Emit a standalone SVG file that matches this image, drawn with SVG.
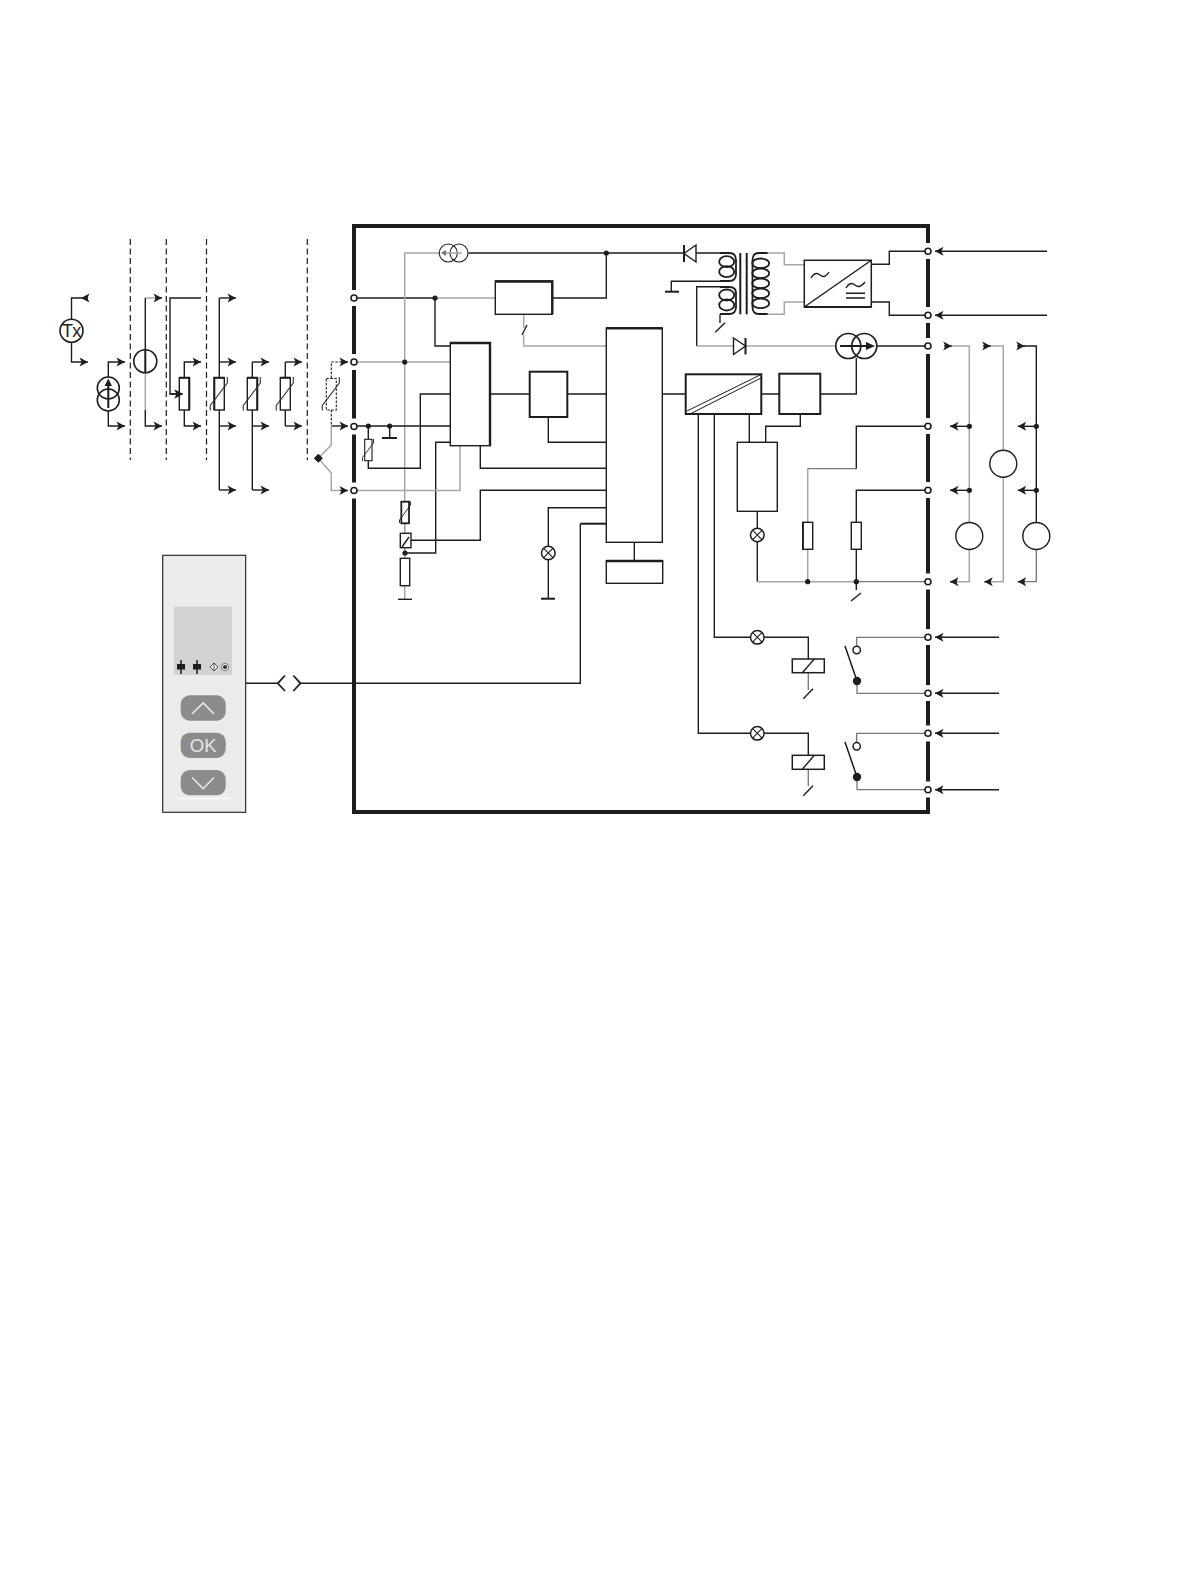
<svg xmlns="http://www.w3.org/2000/svg" width="1191" height="1587" viewBox="0 0 1191 1587">
<style>
.k{fill:none;stroke:#1d1d1b;stroke-width:1.4}
.g{fill:none;stroke:#a6a6a6;stroke-width:1.5}
.m{fill:none;stroke:#777;stroke-width:1.3}
.t{fill:none;stroke:#1d1d1b;stroke-width:2}
.box{fill:#fff;stroke:#1d1d1b;stroke-width:1.4}
.h{fill:none;stroke:#1d1d1b;stroke-width:2.4}
.d{fill:none;stroke:#1d1d1b;stroke-width:1.2;stroke-dasharray:6 3.5}
.dk{fill:none;stroke:#1d1d1b;stroke-width:1.1;stroke-dasharray:2.5 1.5}
.dot{fill:#1d1d1b}
.a{marker-end:url(#ar)}
.gap{fill:#fff}
.term{fill:#fff;stroke:#1d1d1b;stroke-width:1.6}
.chev{fill:none;stroke:#e6e6e6;stroke-width:1.6}
.coil{fill:none;stroke:#1d1d1b;stroke-width:1.8}
.ring{fill:none;stroke:#1d1d1b;stroke-width:1.6}
</style>
<defs>
<marker id="ar" markerUnits="userSpaceOnUse" markerWidth="11" markerHeight="10" refX="8.500" refY="4.500" orient="auto" overflow="visible"><path d="M0 0L8.500 4.500L0 9L2.200 4.500Z" fill="#1d1d1b"/></marker>
<g id="lamp"><circle r="6.800" fill="#fff" stroke="#1d1d1b" stroke-width="1.500"/><path d="M-4.600-4.600L4.600 4.600M-4.600 4.600L4.600-4.600" stroke="#1d1d1b" stroke-width="1.100"/></g>
<path id="slash" d="M-9 16.500v-5L8-11v-6" fill="none" stroke="#333" stroke-width="1.100"/>
</defs>
<rect width="1191" height="1587" fill="#fff"/>

<g id="frame">
<rect x="354" y="226" width="574" height="586" fill="none" stroke="#1d1d1b" stroke-width="4"/>
<g class="gap"><rect x="351" y="290" width="6" height="16"/><rect x="351" y="354" width="6" height="16"/><rect x="351" y="418.500" width="6" height="16"/><rect x="351" y="482.500" width="6" height="16"/>
<rect x="925" y="243" width="6" height="16"/><rect x="925" y="307" width="6" height="16"/><rect x="925" y="338" width="6" height="16"/><rect x="925" y="418" width="6" height="16"/><rect x="925" y="482" width="6" height="16"/><rect x="925" y="573.500" width="6" height="16"/><rect x="925" y="629" width="6" height="16"/><rect x="925" y="685" width="6" height="16"/><rect x="925" y="725.500" width="6" height="16"/><rect x="925" y="781.500" width="6" height="16"/></g>
</g>

<g id="connectors">
<path class="d" d="M130.300 239V460M166.300 239V460M206.500 239V460M307.300 239V460"/>
<path class="k" d="M71.500 319V298H81M71.500 342V362H81"/>
<path class="k a" d="M88 298H81"/><path class="k a" d="M81 362H88"/>
<path class="k a" d="M108.300 377V362H125"/><path class="k a" d="M108.300 411V426H125"/>
<path class="g" d="M145.300 298H155"/><path class="k a" d="M155 298H162"/>
<path class="k" d="M145.300 298V349"/><path class="g" d="M145.300 373V410"/><path class="k a" d="M145.300 410V426H162"/>
<path class="k a" d="M201 298H170V394H183"/>
<path class="k a" d="M184.300 378V362H201"/><path class="k a" d="M184.300 410V426H201"/>
<path class="k" d="M219.300 298V378M219.300 410V490"/>
<path class="k a" d="M219.300 298H236"/><path class="k a" d="M219.300 362H236"/><path class="k a" d="M219.300 426H236"/><path class="k a" d="M219.300 490H236"/>
<path class="k" d="M252.300 362V378M252.300 410V490"/>
<path class="k a" d="M252.300 362H269"/><path class="k a" d="M252.300 426H269"/><path class="k a" d="M252.300 490H269"/>
<path class="k" d="M285.300 362V378M285.300 410V426"/>
<path class="k a" d="M285.300 362H302"/><path class="k a" d="M285.300 426H302"/>
<path class="dk" d="M331.300 378V362H340M331.300 410V426"/><path class="k a" d="M340 362H348"/>
<path class="k a" d="M331.300 426H348"/>
<path class="g" d="M331.300 426V445L318.300 458.300L331.300 473V490.500H340"/><path class="k a" d="M340 490.500H348"/>
<path class="k" d="M354 298H435"/>
<path class="g" d="M404.700 553V253H439"/>
<path class="g" d="M404.700 523V533M404.700 548V558M404.700 586V599"/>
<path class="k" d="M398 599.300H412"/>
<path class="k" d="M468.500 253H683M606.300 253V298H552"/>
<path class="g" d="M435 298H495.300"/>
<path class="k" d="M435 298V346H450.300"/>
<path class="g" d="M354 362H450.300"/>
<path class="k" d="M354 426H450.300M368.300 426V439M368.300 461V468.300H420.300V394H450.300M389.700 426V438"/>
<path class="t" d="M382 438H397"/>
<path class="k" d="M450.300 442.300H435.700V553H404.700"/>
<path class="g" d="M354 490.500H460V445.700"/>
<path class="k" d="M480.300 445.700V468.300H606.300"/>
<path class="k" d="M606.300 490.300H480.300V540.300H411"/>
<path class="g" d="M523.700 314.300V328M523.700 335V346H606.300"/>
<path class="k" d="M522 335L527 325"/>
<path class="k" d="M490.300 394H529.700M567.300 394H606.300M548.300 417V442.300H606.300"/>
<path class="k" d="M606.300 507.700H548.300V599"/>
<path class="t" d="M541 598.700H555"/>
<path class="t" d="M606.300 523.700H580.300"/>
<path class="k" d="M580.300 523.700V683.300H301M278 683.300H245.700"/>
<path class="k" d="M285 675.500L277.800 683.300L285 691" style="stroke-width:1.800"/>
<path class="k" d="M293.300 675.500L300.500 683.300L293.300 691" style="stroke-width:1.800"/>
<path class="k" d="M634.300 542.300V560.700"/>
<path class="k" d="M696 253H720M720 281.300H671.300V291.700"/>
<path class="t" d="M665 291.700H679"/>
<path class="k" d="M720 286.700H696.700V346"/>
<path class="g" d="M696.700 346H733M746 346H836"/>
<path class="k" d="M720 314.300V323"/><path class="k" d="M715.300 332.300L725 322.700"/>
<path class="g" d="M767.700 253H784.300V264.700H804.300M767.700 314.300H784.300V302H804.300"/>
<path class="k" d="M871.300 264.300H889.300V251.300H928M871.300 302H889.300V315.300H928"/>
<path class="k" d="M877 346H928"/>
<path class="k" d="M662.300 394H685.700M761.300 394H779.300M820.300 394H856.300V358"/>
<path class="k" d="M698.300 414V733.300H750.700M714.300 414V637.300H750.700"/>
<path class="k" d="M749.300 414V442.300M765.700 442.300V426.300H800.300V414"/>
<path class="k" d="M757.300 511.300V528M757.300 542V581.700"/>
<path class="g" d="M757.300 581.700H856"/><path class="m" d="M856 581.700H928"/>
<path class="g" d="M807.700 581.700V549.300M807.700 522.300V468.700"/>
<path class="m" d="M807.700 468.700H856.300"/>
<path class="k" d="M856.300 468.700V426.300H928"/>
<path class="k" d="M856.300 581.700V549.300M856.300 522.300V490.300H928M856.300 581.700V590"/>
<path class="k" d="M851 601L861 593"/>
<path class="k" d="M764 637.300H808.300V659M764 733.300H808.300V755.300"/>
<path class="m" d="M808.300 672.700V690M808.300 769.300V786"/>
<path class="k" d="M803.300 698.700L813 688.700M803.300 795.700L813 785.700"/>
<path class="m" d="M928 637.300H856.700V646.500M928 733.300H856.700V742.800M857 681V693.300H928M857 777V789.700H928"/>
<path class="k" d="M845 646L857 681M845 742L857 777" style="stroke-width:1.500"/>
<path class="k a" d="M999 637.300H935"/><path class="k a" d="M999 693.300H935"/><path class="k a" d="M999 733.300H935"/><path class="k a" d="M999 789.700H935"/>
<path class="k a" d="M1047 251.300H935"/><path class="k a" d="M1047 315.300H935"/>
<path class="g" d="M951 346H969.300V522.500M969.300 549.500V581.700H957"/>
<path class="g" d="M990 346H1003.300V450M1003.300 477V581.700H991"/>
<path class="k" d="M1024 346H1036.300V522.500"/>
<path class="m" d="M1036.300 549.500V581.700H1025"/>
<path class="k a" d="M944 346H951.700"/><path class="k a" d="M983 346H990.700"/><path class="k a" d="M1017 346H1024.700"/>
<path class="k a" d="M969.300 426.300H950"/><path class="k a" d="M969.300 490.300H950"/><path class="k a" d="M1036.300 426.300H1017.700"/><path class="k a" d="M1036.300 490.300H1017.700"/>
<path class="k a" d="M957 581.700H950"/><path class="k a" d="M991 581.700H984.300"/><path class="k a" d="M1025 581.700H1017.700"/>
<g class="dot"><circle cx="606.300" cy="253" r="2.600"/><circle cx="435" cy="298" r="2.600"/><circle cx="404.700" cy="362" r="2.600"/><circle cx="368.300" cy="426" r="2.600"/><circle cx="389.700" cy="426" r="2.600"/><circle cx="405" cy="553" r="2.600"/><circle cx="807.700" cy="581.700" r="2.600"/><circle cx="856.300" cy="581.700" r="2.600"/><circle cx="969.300" cy="426.300" r="2.600"/><circle cx="969.300" cy="490.300" r="2.600"/><circle cx="1036.300" cy="426.300" r="2.600"/><circle cx="1036.300" cy="490.300" r="2.600"/></g>
</g>

<g id="terminals">
<circle class="term" cx="354" cy="298" r="3"/><circle class="term" cx="354" cy="362" r="3"/><circle class="term" cx="354" cy="426.500" r="3"/><circle class="term" cx="354" cy="490.500" r="3"/>
<circle class="term" cx="928" cy="251.300" r="3"/><circle class="term" cx="928" cy="315.300" r="3"/><circle class="term" cx="928" cy="346" r="3"/><circle class="term" cx="928" cy="426.300" r="3"/><circle class="term" cx="928" cy="490.300" r="3"/><circle class="term" cx="928" cy="581.700" r="3"/><circle class="term" cx="928" cy="637.300" r="3"/><circle class="term" cx="928" cy="693.300" r="3"/><circle class="term" cx="928" cy="733.300" r="3"/><circle class="term" cx="928" cy="789.700" r="3"/>
</g>

<g id="tx"><circle class="ring" cx="71.500" cy="330.700" r="11.500"/><text x="71.300" y="337.200" text-anchor="middle" font-family="Liberation Sans, Arial, sans-serif" font-size="18" letter-spacing="-0.800" fill="#1d1d1b">Tx</text></g>
<g id="current-source"><circle class="ring" cx="108.300" cy="388" r="11"/><circle class="ring" cx="108.300" cy="400" r="11"/><path class="t" d="M108.300 408V384"/><path d="M108.300 378.500L112 386H104.600Z" fill="#1d1d1b"/></g>
<g id="voltage-source"><circle class="ring" cx="145.300" cy="361.300" r="11.500"/><path class="t" d="M145.300 350V373"/></g>
<g id="potentiometer"><rect x="179.300" y="377.700" width="10" height="32.300" fill="#fff" stroke="#1d1d1b" stroke-width="1.400"/><path class="t" d="M179.300 377.700H189.300V410"/><path class="k a" d="M170 394H183"/></g>
<g id="rtd4"><rect x="214.300" y="377.700" width="10" height="32.300" fill="#fff" stroke="#1d1d1b" stroke-width="1.400"/><path class="t" d="M214.300 410V377.700H224.300"/><use href="#slash" x="219.300" y="394"/></g>
<g id="rtd3"><rect x="247.300" y="377.700" width="10" height="32.300" fill="#fff" stroke="#1d1d1b" stroke-width="1.400"/><path class="t" d="M247.300 377.700H257.300V410"/><use href="#slash" x="252.300" y="394"/></g>
<g id="rtd2"><rect x="280.300" y="377.700" width="10" height="32.300" fill="#fff" stroke="#1d1d1b" stroke-width="1.400"/><path class="t" d="M280.300 377.700H290.300"/><use href="#slash" x="285.300" y="394"/></g>
<g id="rtd-dashed"><rect class="dk" x="326.300" y="378.500" width="10" height="31.500"/><use href="#slash" x="331.300" y="394"/></g>
<g id="thermocouple"><path class="dot" d="M318.300 453.800L322.800 458.300L318.300 462.800L313.800 458.300Z"/></g>

<g id="current-source-top"><circle class="k" cx="448.300" cy="253" r="9" style="stroke-width:1.100"/><circle class="k" cx="459" cy="253" r="9" style="stroke-width:1.100"/><path class="g" d="M445 253H462"/><path d="M441 253L446 250V256Z" fill="#777"/></g>
<g id="box-supply"><rect class="box" x="495.300" y="281" width="57" height="33.300"/><path class="h" d="M495.300 281.500H552.300V314"/></g>
<g id="box-mux"><rect class="box" x="450.300" y="342.700" width="40" height="103"/><path class="h" d="M450.300 343H490V445.700"/></g>
<g id="box-adc"><rect class="box" x="529.700" y="371.700" width="37.600" height="45.300" style="stroke-width:2"/></g>
<g id="box-cpu"><rect class="box" x="606.300" y="328" width="56" height="214.300"/><path class="h" d="M606.300 328.200H662.300"/></g>
<g id="box-memory"><rect class="box" x="606.300" y="560.700" width="56.400" height="22.600"/><path class="h" d="M606.300 561H662.700"/></g>
<g id="rtd-int"><rect x="364.700" y="439.300" width="7.300" height="21.400" fill="#fff" stroke="#1d1d1b" stroke-width="1.100"/><path d="M362.500 461v-3.500L373.500 443v-4" fill="none" stroke="#1d1d1b" stroke-width="0.900"/></g>
<g id="rtd-sense"><rect x="401.300" y="501.700" width="7.700" height="21.600" fill="#fff" stroke="#1d1d1b" stroke-width="1.800"/><path d="M399.500 523v-3L410.500 505v-3.500" fill="none" stroke="#1d1d1b" stroke-width="0.900"/></g>
<g id="switch-sense"><rect class="box" x="400.300" y="533.300" width="10.700" height="14.400"/><path class="k" d="M402 547L409 537"/></g>
<g id="r-sense"><rect class="box" x="400.300" y="558.300" width="9.400" height="27.400"/></g>
<g id="lamp-a"><use href="#lamp" x="548.300" y="553"/></g>

<g id="diode-top"><path d="M684 253.500L696 245V262Z" fill="#fff" stroke="#1d1d1b" stroke-width="1.400"/><path class="t" d="M684 245V262"/></g>
<g id="diode-bottom"><path d="M733.500 338V354.500L745.500 346Z" fill="#fff" stroke="#1d1d1b" stroke-width="1.400"/><path class="t" d="M745.500 338V354.500"/></g>
<g id="transformer">
<path class="t" d="M740.300 253V314.300M746.700 253V314.300"/>
<ellipse class="coil" cx="726.700" cy="261.700" rx="7.500" ry="5.500"/><ellipse class="coil" cx="726.700" cy="271.700" rx="7.500" ry="5.500"/><ellipse class="coil" cx="726.700" cy="295" rx="7.500" ry="5.500"/><ellipse class="coil" cx="726.700" cy="305" rx="7.500" ry="5.500"/>
<ellipse class="coil" cx="760.700" cy="263.300" rx="8.500" ry="4.800"/><ellipse class="coil" cx="760.700" cy="273.300" rx="8.500" ry="4.800"/><ellipse class="coil" cx="760.700" cy="283.300" rx="8.500" ry="4.800"/><ellipse class="coil" cx="760.700" cy="293.300" rx="8.500" ry="4.800"/><ellipse class="coil" cx="760.700" cy="303.300" rx="8.500" ry="4.800"/>
<path class="coil" d="M720 253H729Q736 253 736 260V274Q736 281 729 281H720M720 287H729Q736 287 736 293V307Q736 314 729 314H720M767.700 253H759Q752.500 253 752.500 260V307Q752.500 314 759 314H767.700"/>
</g>
<g id="converter-acdc"><rect class="box" x="804.300" y="260.300" width="67" height="46.700" style="stroke-width:1.500"/><path class="h" d="M804.300 307H871.300" style="stroke-width:1.800"/><path class="k" d="M804.300 307L871.300 260.300"/><path class="k" d="M811 278Q815 271 820 275T829 272M846 288Q850 281 855 285T865 282M846 293.300H865M846 298H865" style="stroke-width:1.400"/></g>
<g id="current-source-power"><circle class="k" cx="848.300" cy="346" r="12.500" style="stroke-width:1.700"/><circle class="k" cx="864.300" cy="346" r="12.500" style="stroke-width:1.700"/><path class="t" d="M840 346H868"/><path d="M875 346L866 342V350Z" fill="#1d1d1b"/></g>
<g id="box-isolator"><rect class="box" x="685.700" y="374.300" width="75.600" height="39.700" style="stroke-width:2"/><path class="k" d="M687 411L760 375M690 414L761 378" style="stroke-width:1"/></g>
<g id="box-output"><rect class="box" x="779.300" y="373.700" width="41" height="40.300" style="stroke-width:2"/></g>
<g id="box-driver"><rect class="box" x="737.300" y="442.300" width="40" height="69"/></g>
<g id="lamp-b"><use href="#lamp" x="757.300" y="535"/></g>
<g id="resistor-a"><rect class="box" x="802.700" y="522.300" width="10" height="27"/><path class="t" d="M803 522.300V549.300" style="stroke-width:1.800"/></g>
<g id="resistor-b"><rect class="box" x="851.300" y="522.300" width="10" height="27"/></g>
<g id="meter-1"><circle class="k" cx="969.300" cy="536" r="13.500"/></g>
<g id="meter-2"><circle class="k" cx="1003.300" cy="463.700" r="13.500"/></g>
<g id="meter-3"><circle class="k" cx="1036.300" cy="536" r="13.500"/></g>
<g id="relay-1"><use href="#lamp" x="757.300" y="637.300"/><rect x="792.300" y="659" width="32" height="13.700" fill="#fff" stroke="#1d1d1b" stroke-width="1.500"/><path class="k" d="M802.300 672.700L814.300 659"/><circle cx="856.700" cy="650" r="3.700" fill="#fff" stroke="#1d1d1b" stroke-width="1.500"/><circle class="dot" cx="857" cy="681" r="4.200"/></g>
<g id="relay-2"><use href="#lamp" x="757.300" y="733.300"/><rect x="792.300" y="755.300" width="32" height="14" fill="#fff" stroke="#1d1d1b" stroke-width="1.500"/><path class="k" d="M802.300 769.300L814.300 755.300"/><circle cx="856.700" cy="746.300" r="3.700" fill="#fff" stroke="#1d1d1b" stroke-width="1.500"/><circle class="dot" cx="857" cy="777" r="4.200"/></g>

<g id="panel">
<rect x="162.700" y="555.300" width="83" height="257" fill="#ebebeb" stroke="#1d1d1b" stroke-width="1.100"/>
<rect x="174" y="606.700" width="58" height="68.300" fill="#d2d2d2"/>
<path d="M181 660V674M197 660V674" stroke="#1d1d1b" stroke-width="1.500"/>
<rect x="177" y="664" width="8" height="5.500" fill="#1d1d1b"/><rect x="193" y="664" width="8" height="5.500" fill="#1d1d1b"/>
<path d="M214 663L218 667L214 671L210 667Z M214 663V671" fill="#f0f0f0" stroke="#1d1d1b" stroke-width="0.700"/>
<circle cx="225" cy="667" r="3.700" fill="#e8e8e8" stroke="#555" stroke-width="0.700"/><circle cx="225" cy="667" r="2.100" fill="#333"/>
<rect x="180.700" y="695.300" width="45" height="25.400" rx="9" fill="#8c8c8c"/>
<rect x="180.700" y="732.700" width="45" height="25.300" rx="9" fill="#8c8c8c"/>
<rect x="180.700" y="770" width="45" height="25.300" rx="9" fill="#8c8c8c"/>
<path class="chev" d="M192 714L203.200 703L214 714"/>
<path class="chev" d="M192 777.500L203.200 788.500L214 777.500"/>
<text x="203.200" y="752" text-anchor="middle" font-family="Liberation Sans, Arial, sans-serif" font-size="18.500" fill="#e6e6e6">OK</text>
<path d="M174 798.500H231" stroke="#fbfbfb" stroke-width="1.300"/>
</g>
</svg>
